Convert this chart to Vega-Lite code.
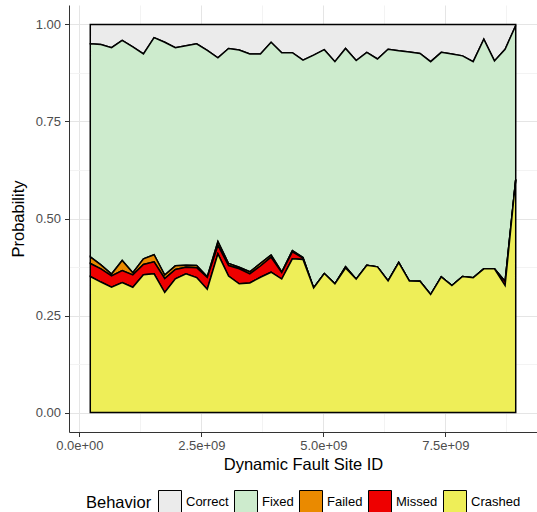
{
  "$schema": "https://vega.github.io/schema/vega-lite/v6.json",
  "width": 468,
  "height": 427,
  "autosize": {"type": "none"},
  "padding": {"left": 69, "top": 5, "right": 0, "bottom": 80},
  "background": "white",
  "config": {"font": "Liberation Sans", "view": {"stroke": null}},
  "data": {
    "values": [
      {"x": 223000000, "Correct": 0.050, "Fixed": 0.5487, "Failed": 0.0173, "Missed": 0.0335, "Crashed": 0.3505},
      {"x": 441000000, "Correct": 0.052, "Fixed": 0.5674, "Failed": 0.0103, "Missed": 0.0340, "Crashed": 0.3363},
      {"x": 659000000, "Correct": 0.060, "Fixed": 0.5831, "Failed": 0.0046, "Missed": 0.0294, "Crashed": 0.3229},
      {"x": 877000000, "Correct": 0.041, "Fixed": 0.5672, "Failed": 0.0258, "Missed": 0.0309, "Crashed": 0.3351},
      {"x": 1095000000, "Correct": 0.058, "Fixed": 0.5819, "Failed": 0.0052, "Missed": 0.0320, "Crashed": 0.3229},
      {"x": 1313000000, "Correct": 0.076, "Fixed": 0.5279, "Failed": 0.0147, "Missed": 0.0265, "Crashed": 0.3549},
      {"x": 1531000000, "Correct": 0.034, "Fixed": 0.5593, "Failed": 0.0183, "Missed": 0.0309, "Crashed": 0.3575},
      {"x": 1749000000, "Correct": 0.046, "Fixed": 0.5996, "Failed": 0.0090, "Missed": 0.0361, "Crashed": 0.3093},
      {"x": 1967000000, "Correct": 0.060, "Fixed": 0.5619, "Failed": 0.0095, "Missed": 0.0240, "Crashed": 0.3446},
      {"x": 2185000000, "Correct": 0.055, "Fixed": 0.5653, "Failed": 0.0052, "Missed": 0.0170, "Crashed": 0.3575},
      {"x": 2403000000, "Correct": 0.050, "Fixed": 0.5711, "Failed": 0.0057, "Missed": 0.0253, "Crashed": 0.3479},
      {"x": 2621000000, "Correct": 0.067, "Fixed": 0.5830, "Failed": 0.0020, "Missed": 0.0302, "Crashed": 0.3178},
      {"x": 2839000000, "Correct": 0.086, "Fixed": 0.4733, "Failed": 0.0103, "Missed": 0.0214, "Crashed": 0.4090},
      {"x": 3057000000, "Correct": 0.062, "Fixed": 0.5539, "Failed": 0.0052, "Missed": 0.0271, "Crashed": 0.3518},
      {"x": 3275000000, "Correct": 0.066, "Fixed": 0.5595, "Failed": 0.0041, "Missed": 0.0387, "Crashed": 0.3317},
      {"x": 3493000000, "Correct": 0.076, "Fixed": 0.5613, "Failed": 0.0052, "Missed": 0.0237, "Crashed": 0.3338},
      {"x": 3711000000, "Correct": 0.076, "Fixed": 0.5394, "Failed": 0.0070, "Missed": 0.0289, "Crashed": 0.3487},
      {"x": 3929000000, "Correct": 0.046, "Fixed": 0.5480, "Failed": 0.0057, "Missed": 0.0387, "Crashed": 0.3616},
      {"x": 4147000000, "Correct": 0.073, "Fixed": 0.5648, "Failed": 0.0013, "Missed": 0.0168, "Crashed": 0.3441},
      {"x": 4365000000, "Correct": 0.073, "Fixed": 0.5095, "Failed": 0.0034, "Missed": 0.0180, "Crashed": 0.3961},
      {"x": 4583000000, "Correct": 0.092, "Fixed": 0.5085, "Failed": 0.0013, "Missed": 0.0039, "Crashed": 0.3943},
      {"x": 4801000000, "Correct": 0.079, "Fixed": 0.6001, "Failed": 0, "Missed": 0, "Crashed": 0.3209},
      {"x": 5019000000, "Correct": 0.065, "Fixed": 0.5768, "Failed": 0, "Missed": 0, "Crashed": 0.3582},
      {"x": 5237000000, "Correct": 0.096, "Fixed": 0.5723, "Failed": 0, "Missed": 0, "Crashed": 0.3317},
      {"x": 5455000000, "Correct": 0.062, "Fixed": 0.5626, "Failed": 0, "Missed": 0.0030, "Crashed": 0.3724},
      {"x": 5673000000, "Correct": 0.093, "Fixed": 0.5634, "Failed": 0, "Missed": 0, "Crashed": 0.3436},
      {"x": 5891000000, "Correct": 0.072, "Fixed": 0.5484, "Failed": 0, "Missed": 0, "Crashed": 0.3796},
      {"x": 6109000000, "Correct": 0.089, "Fixed": 0.5355, "Failed": 0, "Missed": 0, "Crashed": 0.3755},
      {"x": 6327000000, "Correct": 0.064, "Fixed": 0.5966, "Failed": 0, "Missed": 0, "Crashed": 0.3394},
      {"x": 6545000000, "Correct": 0.068, "Fixed": 0.5454, "Failed": 0, "Missed": 0, "Crashed": 0.3866},
      {"x": 6763000000, "Correct": 0.071, "Fixed": 0.5901, "Failed": 0, "Missed": 0, "Crashed": 0.3389},
      {"x": 6981000000, "Correct": 0.075, "Fixed": 0.5866, "Failed": 0, "Missed": 0, "Crashed": 0.3384},
      {"x": 7199000000, "Correct": 0.096, "Fixed": 0.5999, "Failed": 0, "Missed": 0, "Crashed": 0.3041},
      {"x": 7417000000, "Correct": 0.072, "Fixed": 0.5783, "Failed": 0, "Missed": 0, "Crashed": 0.3497},
      {"x": 7635000000, "Correct": 0.076, "Fixed": 0.5967, "Failed": 0, "Missed": 0, "Crashed": 0.3273},
      {"x": 7853000000, "Correct": 0.081, "Fixed": 0.5685, "Failed": 0, "Missed": 0, "Crashed": 0.3505},
      {"x": 8071000000, "Correct": 0.096, "Fixed": 0.5568, "Failed": 0, "Missed": 0, "Crashed": 0.3472},
      {"x": 8289000000, "Correct": 0.038, "Fixed": 0.5916, "Failed": 0, "Missed": 0, "Crashed": 0.3704},
      {"x": 8507000000, "Correct": 0.094, "Fixed": 0.5356, "Failed": 0, "Missed": 0, "Crashed": 0.3704},
      {"x": 8725000000, "Correct": 0.064, "Fixed": 0.5984, "Failed": 0, "Missed": 0.0103, "Crashed": 0.3273},
      {"x": 8943000000, "Correct": 0.003, "Fixed": 0.3965, "Failed": 0, "Missed": 0, "Crashed": 0.6005}
    ]
  },
  "transform": [
    {"fold": ["Correct", "Fixed", "Failed", "Missed", "Crashed"], "as": ["Behavior", "p"]},
    {"calculate": "indexof(['Crashed','Missed','Failed','Fixed','Correct'], datum.Behavior)", "as": "ord"}
  ],
  "mark": {"type": "area", "stroke": "black", "strokeWidth": 1.5, "interpolate": "linear", "opacity": 1},
  "encoding": {
    "x": {
      "field": "x",
      "type": "quantitative",
      "scale": {"domain": [-213000000, 9379000000], "nice": false, "zero": false},
      "axis": {
        "values": [0, 1250000000, 2500000000, 3750000000, 5000000000, 6250000000, 7500000000, 8750000000],
        "labelExpr": "(datum.value/2500000000)%1==0 ? replace(format(datum.value,'.1e'),'e+','e+0') : ''",
        "title": "Dynamic Fault Site ID",
        "titleFontSize": 16.5,
        "titleFontWeight": "normal",
        "titleColor": "black",
        "titlePadding": 4,
        "labelFontSize": 13,
        "labelColor": "#4D4D4D",
        "labelPadding": 3,
        "labelFlush": false,
        "labelOverlap": false,
        "tickSize": 4.5,
        "tickColor": "#333333",
        "tickOpacity": {"condition": {"test": "(datum.value/2500000000)%1!=0", "value": 0}, "value": 1},
        "domainColor": "#333333",
        "grid": true,
        "gridColor": {"condition": {"test": "(datum.value/2500000000)%1!=0", "value": "#F3F3F3"}, "value": "#E5E5E5"}
      }
    },
    "y": {
      "field": "p",
      "type": "quantitative",
      "stack": "zero",
      "scale": {"domain": [-0.05, 1.05], "nice": false, "zero": false},
      "axis": {
        "values": [0, 0.125, 0.25, 0.375, 0.5, 0.625, 0.75, 0.875, 1],
        "labelExpr": "(datum.value*4)%1==0 ? format(datum.value,'.2f') : ''",
        "title": "Probability",
        "titleFontSize": 16.5,
        "titleFontWeight": "normal",
        "titleColor": "black",
        "titlePadding": 9,
        "labelFontSize": 13,
        "labelColor": "#4D4D4D",
        "labelPadding": 4,
        "labelFlush": false,
        "labelOverlap": false,
        "tickSize": 4.5,
        "tickColor": "#333333",
        "tickOpacity": {"condition": {"test": "(datum.value*4)%1!=0", "value": 0}, "value": 1},
        "domainColor": "#333333",
        "grid": true,
        "gridColor": {"condition": {"test": "(datum.value*4)%1!=0", "value": "#F3F3F3"}, "value": "#E5E5E5"}
      }
    },
    "color": {
      "field": "Behavior",
      "type": "nominal",
      "scale": {
        "domain": ["Correct", "Fixed", "Failed", "Missed", "Crashed"],
        "range": ["#EBEBEB", "#CDEBCD", "#EA8A00", "#EE0000", "#EEEE58"]
      },
      "legend": {
        "orient": "none",
        "legendX": 17,
        "legendY": 485,
        "direction": "horizontal",
        "columns": 5,
        "gridAlign": "none",
        "title": "Behavior",
        "titleOrient": "left",
        "titleFontSize": 16.5,
        "titleFontWeight": "normal",
        "titleColor": "black",
        "titlePadding": 6,
        "titleAnchor": "middle",
        "labelFontSize": 13,
        "labelColor": "black",
        "labelOffset": 4,
        "columnPadding": 3,
        "symbolType": "square",
        "symbolSize": 529,
        "symbolStrokeColor": "black",
        "symbolStrokeWidth": 1,
        "symbolOpacity": 1
      }
    },
    "order": {"field": "ord", "type": "quantitative"}
  }
}
